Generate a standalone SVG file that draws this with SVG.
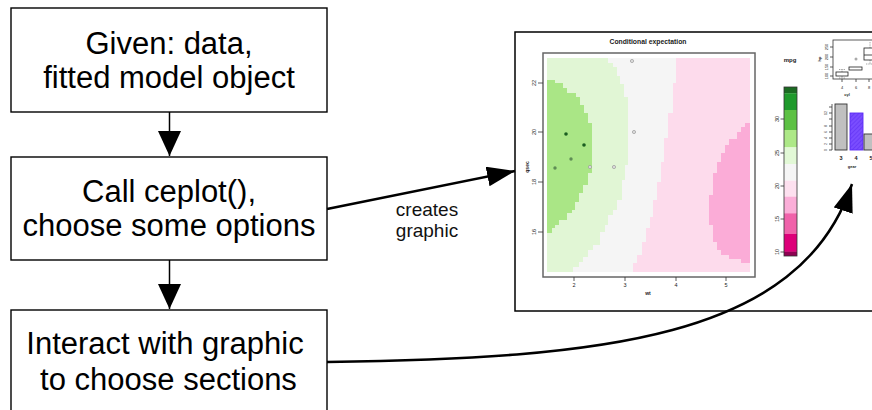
<svg xmlns="http://www.w3.org/2000/svg" width="872" height="410" viewBox="0 0 872 410">
<defs>
<style>
.box{fill:#fff;stroke:#000;stroke-width:1.4}
.lbl{font-family:"Liberation Sans",Arial,sans-serif;font-size:31px;fill:#000;text-anchor:middle}
.edge{font-family:"Liberation Sans",Arial,sans-serif;font-size:19px;fill:#111;text-anchor:middle}
.conn{fill:none;stroke:#000}
.t{font-family:"Liberation Sans",Arial,sans-serif;fill:#222;text-anchor:middle}
.tk{stroke:#333;stroke-width:0.8}
</style>
<marker id="ahv" markerUnits="userSpaceOnUse" markerWidth="26" markerHeight="24" refX="25" refY="11.5" orient="auto">
<path d="M0,0 L25,11.5 L0,23 z" fill="#000"/>
</marker>
<marker id="ahd" markerUnits="userSpaceOnUse" markerWidth="29" markerHeight="22" refX="28" refY="10" orient="auto">
<path d="M0,0 L28,10 L0,20 z" fill="#000"/>
</marker>
<pattern id="hatch" patternUnits="userSpaceOnUse" width="3" height="3" patternTransform="rotate(45)">
<rect width="3" height="3" fill="#7a4dff"/>
<line x1="0" y1="0" x2="0" y2="3" stroke="#5a2af0" stroke-width="1"/>
</pattern>
</defs>

<g id="node-given">
<rect class="box" x="11" y="8" width="316" height="104"/>
<text class="lbl" x="169" y="54">Given: data,</text>
<text class="lbl" x="169" y="88">fitted model object</text>
</g>

<g id="node-call">
<rect class="box" x="11" y="157" width="316" height="103"/>
<text class="lbl" x="169" y="202">Call ceplot(),</text>
<text class="lbl" x="169" y="236">choose some options</text>
</g>

<g id="node-interact">
<rect class="box" x="11" y="310" width="316" height="130"/>
<text class="lbl" x="165" y="354">Interact with graphic</text>
<text class="lbl" x="168.5" y="390">to choose sections</text>
</g>

<g id="node-graphic">
<rect x="515" y="32" width="420" height="279" fill="#fff" stroke="#000" stroke-width="1.5"/>
<text class="t" x="648" y="44" font-size="6.8" font-weight="bold">Conditional expectation</text>
<!-- contour image -->
<rect x="547" y="58" width="203" height="214" fill="#fddbec"/>
<path fill="#f5f5f5" d="M547,58 H676 V83 H673 V113 H668 V138 H664 V162 H661 V182 H657 V200 H653 V217 H650 V228 H646 V242 H642 V255 H637 V263 H633 V272 H547 Z"/>
<path fill="#e1f6d5" d="M547,58 H608 V63 H613 V67 H617 V76 H620 V84 H624 V97 H628 V165 H625 V180 H622 V200 H617 V210 H613 V215 H608 V225 H605 V232 H600 V245 H593 V250 H588 V257 H583 V262 H579 V267 H573 V272 H547 Z"/>
<path fill="#aae686" d="M547,80 H555 V83 H563 V88 H567 V93 H576 V97 H580 V105 H584 V113 H588 V123 H592 V173 H588 V185 H583 V193 H579 V202 H575 V210 H572 V213 H567 V220 H559 V225 H555 V228 H552 V233 H547 Z"/>
<path fill="#fbacd7" d="M750,123 H745 V127 H741 V132 H737 V139 H729 V145 H725 V153 H721 V162 H717 V173 H713 V195 H709 V225 H713 V242 H717 V250 H721 V255 H729 V259 H741 V263 H750 Z"/>
<rect x="543" y="53" width="212" height="224" fill="none" stroke="#666" stroke-width="1.5"/>
<!-- points -->
<circle cx="566" cy="134" r="1.8" fill="#1b5e20"/>
<circle cx="584" cy="145" r="1.8" fill="#1b5e20"/>
<circle cx="571" cy="159" r="1.7" fill="#5f8d55"/>
<circle cx="555" cy="168" r="1.7" fill="#5f8d55"/>
<circle cx="590" cy="167" r="1.6" fill="#ddd" stroke="#999" stroke-width="0.7"/>
<circle cx="614" cy="167" r="1.6" fill="#ddd" stroke="#999" stroke-width="0.7"/>
<circle cx="634" cy="132" r="1.6" fill="#ddd" stroke="#999" stroke-width="0.7"/>
<circle cx="632" cy="61" r="1.6" fill="#ddd" stroke="#999" stroke-width="0.7"/>
<!-- axes -->
<path class="tk" d="M574,277 V281 M625,277 V281 M676,277 V281 M726,277 V281 M543,83 H538 M543,132 H538 M543,182 H538 M543,232 H538"/>
<g class="t" font-size="5.5">
<text x="574" y="287">2</text><text x="625" y="287">3</text><text x="676" y="287">4</text><text x="726" y="287">5</text>
<text x="648" y="295" font-weight="bold" font-size="5">wt</text>
<text transform="translate(536,83) rotate(-90)">22</text>
<text transform="translate(536,132) rotate(-90)">20</text>
<text transform="translate(536,182) rotate(-90)">18</text>
<text transform="translate(536,232) rotate(-90)">16</text>
<text transform="translate(529,167) rotate(-90)" font-weight="bold" font-size="5">qsec</text>
</g>
<!-- colorbar -->
<text class="t" x="790" y="62" font-size="6" font-weight="bold">mpg</text>
<rect x="784" y="87" width="13" height="6.5" fill="#1b6b22"/>
<rect x="784" y="93.3" width="13" height="16.9" fill="#1f9a2c"/>
<rect x="784" y="110" width="13" height="20.2" fill="#5dc144"/>
<rect x="784" y="130" width="13" height="17.5" fill="#ade887"/>
<rect x="784" y="147.3" width="13" height="16.9" fill="#e2f8d6"/>
<rect x="784" y="164" width="13" height="16.9" fill="#f5f5f5"/>
<rect x="784" y="180.7" width="13" height="16.2" fill="#fde0ef"/>
<rect x="784" y="196.7" width="13" height="16.8" fill="#fbaed8"/>
<rect x="784" y="213.3" width="13" height="20.9" fill="#f062aa"/>
<rect x="784" y="234" width="13" height="17.9" fill="#dd0079"/>
<rect x="784" y="251.7" width="13" height="4.3" fill="#8e0152"/>
<rect x="784" y="87" width="13" height="169" fill="none" stroke="#333" stroke-width="0.8"/>
<path class="tk" d="M784,119 H780.5 M784,153 H780.5 M784,186 H780.5 M784,219 H780.5 M784,252 H780.5"/>
<g class="t" font-size="5.5">
<text transform="translate(778.5,119) rotate(-90)">30</text>
<text transform="translate(778.5,153) rotate(-90)">25</text>
<text transform="translate(778.5,186) rotate(-90)">20</text>
<text transform="translate(778.5,219) rotate(-90)">15</text>
<text transform="translate(778.5,252) rotate(-90)">10</text>
</g>
<!-- boxplot panel -->
<rect x="833" y="40" width="60" height="39" fill="none" stroke="#333" stroke-width="0.8"/>
<path class="tk" d="M833,47 H830 M833,57 H830 M833,67 H830 M833,76 H830 M842,79 V82 M856,79 V82 M869,79 V82"/>
<g class="t" font-size="4">
<text transform="translate(827.5,47) rotate(-90)">250</text>
<text transform="translate(827.5,57) rotate(-90)">200</text>
<text transform="translate(827.5,67) rotate(-90)">150</text>
<text transform="translate(827.5,76) rotate(-90)">100</text>
<text transform="translate(820.5,59) rotate(-90)" font-weight="bold">hp</text>
<text x="842" y="89">4</text><text x="856" y="89">6</text><text x="869" y="89">8</text>
<text x="847" y="96" font-weight="bold">cyl</text>
</g>
<rect x="836" y="72" width="12" height="4" fill="#fff" stroke="#222" stroke-width="0.8"/>
<path d="M842,72 V69.5 M839,69.5 H845 M842,76 V78 M839,78 H845" stroke="#444" stroke-width="0.5" stroke-dasharray="1 0.7"/>
<rect x="849" y="67" width="13" height="3" fill="#fff" stroke="#222" stroke-width="0.8"/>
<circle cx="856" cy="59" r="1.5" fill="#aaa"/>
<rect x="864" y="48" width="14" height="12" fill="#fff" stroke="#222" stroke-width="0.8"/>
<line x1="864" y1="55" x2="878" y2="55" stroke="#222" stroke-width="0.8"/>
<path d="M870,48 V42 M870,60 V64 M866,64 H874" stroke="#444" stroke-width="0.5" stroke-dasharray="1 0.7"/>
<!-- bar panel -->
<path class="tk" d="M832,104 V150 M832,150 H829 M832,144 H829 M832,138 H829 M832,132 H829 M832,126 H829 M832,119 H829 M832,113 H829 M832,107 H829"/>
<rect x="835" y="104" width="12" height="46" fill="#c0c0c0" stroke="#333" stroke-width="0.9"/>
<rect x="850" y="113" width="13" height="37" fill="url(#hatch)" stroke="#5b2cf5" stroke-width="0.9"/>
<rect x="864" y="134" width="14" height="16" fill="#c0c0c0" stroke="#333" stroke-width="0.9"/>
<g class="t" font-size="3.5">
<text transform="translate(827,150) rotate(-90)">0</text>
<text transform="translate(827,144) rotate(-90)">2</text>
<text transform="translate(827,138) rotate(-90)">4</text>
<text transform="translate(827,132) rotate(-90)">6</text>
<text transform="translate(827,126) rotate(-90)">8</text>
<text transform="translate(827,113) rotate(-90)">12</text>
</g>
<g class="t" font-size="5.5" font-weight="bold">
<text x="841" y="160">3</text><text x="856" y="160">4</text><text x="871" y="160">5</text>
</g>
<text class="t" x="852" y="168" font-size="4" font-weight="bold">gear</text>
</g>

<g id="connectors">
<line class="conn" x1="169.5" y1="112" x2="169.5" y2="156" stroke-width="1.5" marker-end="url(#ahv)"/>
<line class="conn" x1="169.5" y1="260" x2="169.5" y2="309" stroke-width="1.5" marker-end="url(#ahv)"/>
<line class="conn" x1="327" y1="209" x2="515" y2="171" stroke-width="2.5" marker-end="url(#ahd)"/>
<text class="edge" x="427" y="216">creates</text>
<text class="edge" x="427" y="237">graphic</text>
<path class="conn" d="M327,362 C600,358 800,340 852,184" stroke-width="2.5" marker-end="url(#ahd)"/>
</g>
</svg>
